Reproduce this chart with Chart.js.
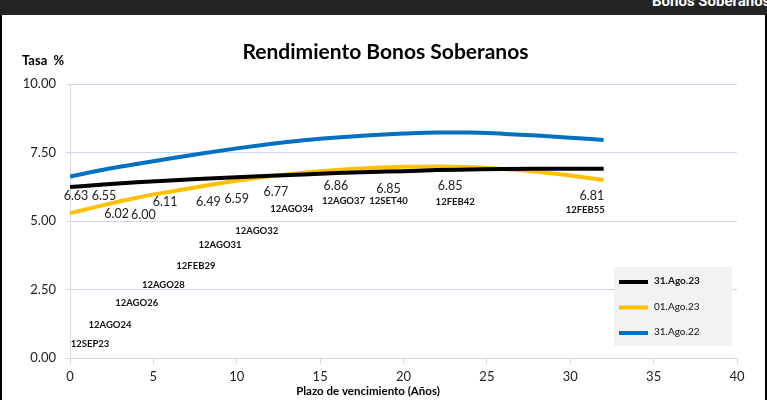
<!DOCTYPE html>
<html>
<head>
<meta charset="utf-8">
<script src="https://cdn.jsdelivr.net/npm/chart.js@4.4.0/dist/chart.umd.min.js"></script>
<style>
  html, body { margin: 0; padding: 0; background: #fff; }
  #bar { position: absolute; left: 0; top: 0; width: 767px; height: 15px; background: #232323; overflow: hidden; }
  #bar span { position: absolute; left: 652px; top: -8px; color: #fff; font: bold 15px Roboto, sans-serif; white-space: nowrap; }
  #box { position: absolute; left: 0; top: 15px; width: 763px; height: 385px; border-left: 2px solid #000; border-right: 2px solid #000; }
</style>
</head>
<body>
<div id="bar"><span>Bonos Soberanos</span></div>
<div id="box"><canvas id="myChart" width="763" height="385"></canvas></div>
<script>
// plazo (años)
var plazos = [0, 2, 4, 6, 8, 10, 12, 14, 16, 18, 20, 22, 24, 26, 28, 30, 32];
var tasa31Ago23 = [6.24, 6.33, 6.41, 6.48, 6.54, 6.60, 6.65, 6.70, 6.75, 6.79, 6.82, 6.86, 6.88, 6.90, 6.91, 6.91, 6.91];
var tasa01Ago23 = [5.28, 5.58, 5.85, 6.07, 6.28, 6.47, 6.63, 6.76, 6.86, 6.93, 6.98, 6.99, 6.96, 6.90, 6.80, 6.66, 6.50];
var tasa31Ago22 = [6.62, 6.87, 7.08, 7.28, 7.47, 7.65, 7.81, 7.95, 8.05, 8.13, 8.19, 8.23, 8.23, 8.18, 8.12, 8.04, 7.96];
var seriesNames = ['31.Ago.23', '01.Ago.23', '31.Ago.22'];

// bonos y rendimientos (etiquetas)
var bonos = ['12SEP23', '12AGO24', '12AGO26', '12AGO28', '12FEB29', '12AGO31', '12AGO32', '12AGO34', '12AGO37', '12SET40', '12FEB42', '12FEB55'];
var bonoLabelX = [1.2, 2.4, 4.0, 5.6, 7.55, 9.0, 11.2, 13.3, 16.4, 19.1, 23.1, 30.9];
var bonoLabelY = [0.51, 1.2, 2.0, 2.66, 3.36, 4.12, 4.63, 5.44, 5.73, 5.73, 5.69, 5.40];
var rendimientos = ['6.63', '6.55', '6.02', '6.00', '6.11', '6.49', '6.59', '6.77', '6.86', '6.85', '6.85', '6.81'];
var rendLabelX = [0.36, 2.04, 2.8, 4.4, 5.7, 8.3, 10.0, 12.35, 15.95, 19.1, 22.8, 31.3];
var rendLabelY = [5.91, 5.91, 5.26, 5.22, 5.69, 5.69, 5.80, 6.06, 6.28, 6.17, 6.28, 5.91];

var xTicks = [0, 5, 10, 15, 20, 25, 30, 35, 40];
var yTicks = [0, 2.5, 5, 7.5, 10];

function pts(ys) {
  return plazos.map(function (x, i) { return { x: x, y: ys[i] }; });
}

var colors = ['#000000', '#ffc000', '#0070c0'];
var FONT = 'Lato, "Open Sans", sans-serif';

var extras = {
  id: 'extras',
  afterDraw: function (chart) {
    var c = chart.ctx;
    var sx = chart.scales.x, sy = chart.scales.y;
    c.save();
    // titulos
    c.fillStyle = '#000';
    c.textAlign = 'center';
    c.textBaseline = 'middle';
    c.font = 'bold 21px ' + FONT;
    c.fillText('Rendimiento Bonos Soberanos', chart.width / 2 + 2, 37);
    c.font = 'bold 11.5px ' + FONT;
    c.fillText('Plazo de vencimiento (Años)', 366, 376);
    c.textAlign = 'left';
    c.font = 'bold 13px ' + FONT;
    c.fillText('Tasa  %', 20, 46);
    // etiquetas de bonos
    c.textAlign = 'center';
    c.font = 'bold 9.5px ' + FONT;
    c.fillStyle = '#111';
    bonos.forEach(function (b, i) {
      c.fillText(b, sx.getPixelForValue(bonoLabelX[i]), sy.getPixelForValue(bonoLabelY[i]));
    });
    c.font = '12.5px ' + FONT;
    c.fillStyle = '#222';
    rendimientos.forEach(function (r, i) {
      c.fillText(r, sx.getPixelForValue(rendLabelX[i]), sy.getPixelForValue(rendLabelY[i]));
    });
    // leyenda
    c.fillStyle = '#f2f2f2';
    c.fillRect(612, 252, 118, 79);
    chart.data.datasets.forEach(function (ds, i) {
      var yy = 267 + i * 25.5;
      c.strokeStyle = ds.borderColor;
      c.lineWidth = 4;
      c.beginPath();
      c.moveTo(617, yy);
      c.lineTo(646, yy);
      c.stroke();
      c.fillStyle = '#111';
      c.textAlign = 'left';
      c.font = (i === 0 ? 'bold ' : '') + '10px ' + FONT;
      c.fillText(ds.label, 652, yy - 1);
    });
    c.restore();
  }
};

var ctx = document.getElementById('myChart');
var myChart = new Chart(ctx, {
  type: 'line',
  data: {
    datasets: [
      { label: seriesNames[0], data: pts(tasa31Ago23), borderColor: colors[0] },
      { label: seriesNames[1], data: pts(tasa01Ago23), borderColor: colors[1] },
      { label: seriesNames[2], data: pts(tasa31Ago22), borderColor: colors[2] }
    ]
  },
  options: {
    responsive: false,
    animation: false,
    elements: {
      line: { borderWidth: 4, cubicInterpolationMode: 'monotone', fill: false },
      point: { radius: 0 }
    },
    layout: { padding: { left: 0, right: 28, top: 69, bottom: 0 } },
    plugins: { legend: { display: false }, title: { display: false }, tooltip: { enabled: false } },
    scales: {
      x: {
        type: 'linear',
        min: 0,
        max: 40,
        afterBuildTicks: function (s) { s.ticks = xTicks.map(function (v) { return { value: v }; }); },
        afterFit: function (s) { s.height = 42; },
        grid: { display: true, drawOnChartArea: false, tickLength: 6, color: '#d9d9d9' },
        border: { color: '#d9d9d9' },
        ticks: { padding: 5, color: '#222', font: { family: FONT, size: 13 } }
      },
      y: {
        min: 0,
        max: 10,
        afterBuildTicks: function (s) { s.ticks = yTicks.map(function (v) { return { value: v }; }); },
        afterFit: function (s) { s.width = 68; },
        grid: { color: '#c9d8ef', tickLength: 4, lineWidth: 1 },
        border: { color: '#d9d9d9' },
        ticks: {
          padding: 10,
          color: '#222',
          font: { family: FONT, size: 13 },
          callback: function (v) { return v.toFixed(2); }
        }
      }
    }
  },
  plugins: [extras]
});
</script>
</body>
</html>
